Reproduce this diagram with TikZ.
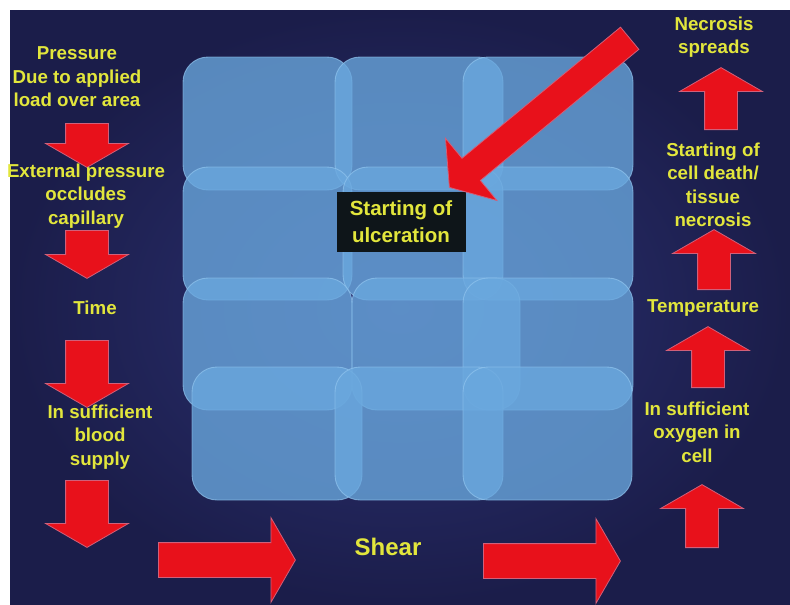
\documentclass[tikz,border=0pt]{standalone}
\usepackage{fontspec}
\setmainfont{Liberation Sans}
\usetikzlibrary{shapes.arrows}
\definecolor{slide}{HTML}{2C3274}
\definecolor{slideedge}{HTML}{1B1D4A}
\definecolor{label}{HTML}{E2E63C}
\definecolor{tilefill}{HTML}{6AA8DE}
\definecolor{tileline}{HTML}{90C4EE}
\definecolor{alarm}{HTML}{E8111B}
\definecolor{alarmline}{HTML}{D0607A}
\definecolor{boxink}{HTML}{0E1519}
\tikzset{
  lbl/.style={font=\bfseries\fontsize{18.7}{23.5}\selectfont, text=label,
              align=center, inner sep=0pt},
  tile/.style={fill=tilefill, fill opacity=0.78, draw=tileline, draw opacity=0.7,
               line width=0.9pt, rounded corners=25pt},
  %
  blk/.style={single arrow, fill=alarm, draw=alarmline, line width=0.8pt,
              inner xsep=0pt, minimum width=0pt, anchor=tail,
              single arrow tip angle=120},
  blkdown/.style={blk, rotate=-90, inner ysep=21pt, single arrow head extend=20pt},
  blkup/.style={blk, rotate=90, inner ysep=16pt, single arrow head extend=25pt},
  blkright/.style={blk, inner ysep=17pt, single arrow head extend=25pt},
}

\begin{document}
\begin{tikzpicture}[x=1pt, y=-1pt]
\useasboundingbox (0,0) rectangle (790,605);
\fill[white] (0,0) rectangle (790,605);
\shade[inner color=slide, outer color=slideedge] (10,10) rectangle (790,605);

% ------------------------------------------------------------ tiles
\foreach \xa/\ya/\xb/\yb in {183/57/352/190, 335/57/503/190, 463/57/633/190,
    183/167/352/300, 343/167/503/300, 463/167/633/300,
    183/278/352/410, 352/278/520/410, 463/278/633/410,
    192/367/362/500, 335/367/503/500, 463/367/632/500}
  \draw[tile] (\xa,\ya) rectangle (\xb,\yb);

\node[fill=boxink, text=label, font=\bfseries\fontsize{20.5}{27}\selectfont,
      align=center, minimum width=129pt, minimum height=60pt, inner sep=0pt]
  (ulcer) at (401,222) {Starting of\\ulceration};

\node[blk, rotate=219.6, inner ysep=14pt, single arrow head extend=26pt,
      single arrow tip angle=110, minimum height=234pt] (hit) at (630,38) {};

% ------------------------------------------------------------ left column
\node[blkdown, minimum height=44pt] (d1) at (87,123) {};
\node[blkdown, minimum height=48pt] (d2) at (87,230) {};
\node[blkdown, minimum height=67pt] (d3) at (87,340) {};
\node[blkdown, minimum height=67pt] (d4) at (87,480) {};

\node[lbl] (press) at (77,77) {Pressure\\Due to applied\\load over area};
\node[lbl] (occl) at (86,196) {External pressure\\occludes\\capillary};
\node[lbl] (time) at (95,308) {Time};
\node[lbl] (blood) at (100,437) {In sufficient\\blood\\supply};

% ------------------------------------------------------------ right column
\node[blkup, minimum height=62pt] (u1) at (721,130) {};
\node[blkup, minimum height=60pt] (u2) at (714,290) {};
\node[blkup, minimum height=61pt] (u3) at (708,388) {};
\node[blkup, minimum height=63pt] (u4) at (702,548) {};

\node[lbl] (spread) at (714,37) {Necrosis\\spreads};
\node[lbl] (death) at (713,185) {Starting of\\cell death/\\tissue\\necrosis};
\node[lbl] (temp) at (703,308) {Temperature};
\node[lbl] (oxy) at (697,432) {In sufficient\\oxygen in\\cell};

% ------------------------------------------------------------ bottom
\node[blkright, minimum height=137pt] (r1) at (158,560) {};
\node[blkright, minimum height=137pt] (r2) at (483,561) {};
\node[lbl, font=\bfseries\fontsize{24}{28}\selectfont] (shear) at (388,547) {Shear};

\end{tikzpicture}
\end{document}
